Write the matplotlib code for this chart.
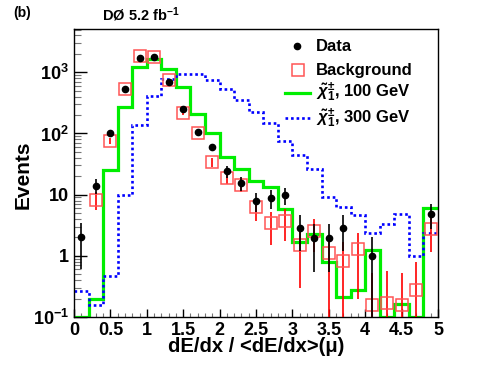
import numpy as np
import matplotlib
matplotlib.use('Agg')
from matplotlib import pyplot as plt
from matplotlib.ticker import FixedLocator, MultipleLocator, NullFormatter

plt.rcParams['font.family'] = ['Liberation Sans', 'DejaVu Sans']
plt.rcParams['font.weight'] = 'bold'
plt.rcParams['mathtext.fontset'] = 'custom'
plt.rcParams['mathtext.rm'] = 'Liberation Sans:bold'
plt.rcParams['mathtext.bf'] = 'Liberation Sans:bold'
plt.rcParams['mathtext.it'] = 'Liberation Sans:italic'

# bins of dE/dx ratio
edges = np.linspace(0, 5, 26)
centers = 0.5 * (edges[:-1] + edges[1:])

# data (nan = empty bin)
data = [2, 14, 100, 540, 1740, 1750, 685, 250, 104, 60, 24, 15.5, 8, 8.8, 9.8,
        2.9, 1.95, 1.95, 2.9, np.nan, 1.0, np.nan, np.nan, np.nan, 4.8]
data_err = [1.4, 3.7, 10, 23, 42, 42, 26, 16, 10, 8, 5, 4, 2.8, 3, 3.1,
            1.7, 1.4, 1.4, 1.7, 0, 0.999, 0, 0, 0, 2.1]

# background
bkg = [np.nan, 8.3, 75, 540, 1830, 1800, 740, 215, 100, 34, 19, 14.5, 6.3, 3.4, 3.75,
       1.5, 2.57, 1.1, 0.83, 1.3, 0.16, 0.17, 0.16, 0.28, 2.75]
bkg_err = [0, 2.7, 8, 25, 45, 45, 30, 15, 10, 6, 4, 3.5, 2.6, 1.9, 2.0,
           1.2, 1.4, 1.099, 0.829, 1.1, 0.37, 0.4, 0.37, 0.5, 1.6]

# signal histograms
sig100 = [0.1, 0.2, 25, 270, 1220, 1650, 1120, 575, 210, 100, 41, 26.4, 17, 13.5, 5.8,
          1.7, 2.27, 0.8, 0.21, 0.28, 1.24, 0.1, 0.166, 0.1, 6.0]
sig300 = [0.27, 0.16, 0.47, 10, 138, 410, 790, 930, 930, 740, 540, 357, 224, 147, 75,
          45, 26, 9.3, 6.3, 4.6, 2.36, 3.3, 4.8, 1.0, 2.33]

green = '#00ee00'
blue = '#0000ff'
dots = (0, (1, 1.1))

fig = plt.figure(figsize=(4.98, 3.74), dpi=100)
ax = fig.add_axes([0.1486, 0.1524, 0.7309, 0.7701])

ax.stairs(sig100, edges, baseline=None, color=green, lw=2.3, zorder=2)
ax.stairs(sig300, edges, baseline=None, color=blue, lw=1.9, linestyle=dots, zorder=2)

ax.errorbar(centers, bkg, yerr=bkg_err, fmt='none', ecolor='red', elinewidth=1.2, zorder=3)
ax.plot(centers, bkg, 's', ms=8, mfc='none', mec='#ff5555', mew=1.1, zorder=4)
ax.errorbar(centers, data, yerr=data_err, fmt='o', color='black', ms=4.5,
            elinewidth=1.2, zorder=5)

ax.set_yscale('log')
ax.set_xlim(0, 5)
ax.set_ylim(0.1, 5100)

ax.yaxis.set_major_locator(FixedLocator([0.1, 1, 10, 100, 1000]))
ax.set_yticklabels([r'10$^{-1}$', '1', '10', r'10$^{2}$', r'10$^{3}$'])
ax.yaxis.set_minor_locator(FixedLocator(
    [m * 10.0 ** e for e in range(-1, 4) for m in range(2, 10)]))
ax.yaxis.set_minor_formatter(NullFormatter())
ax.xaxis.set_minor_locator(MultipleLocator(0.1))
ax.set_xticks([0, 0.5, 1, 1.5, 2, 2.5, 3, 3.5, 4, 4.5, 5])
ax.set_xticklabels(['0', '0.5', '1', '1.5', '2', '2.5', '3', '3.5', '4', '4.5', '5'])

ax.tick_params(which='both', direction='in', top=False, right=False, labelsize=13)
ax.tick_params(axis='y', which='major', length=9, width=1)
ax.tick_params(axis='y', which='minor', length=5, width=0.8, color='#777777')
ax.tick_params(axis='x', which='major', length=6, width=1)
ax.tick_params(axis='x', which='minor', length=3, width=0.8, color='#777777')
for s in ax.spines.values():
    s.set_linewidth(1.0)

ax.set_xlabel('dE/dx / <dE/dx>(\u03bc)', fontsize=14.5, fontweight='bold')
ax.xaxis.set_label_coords(0.5, -0.07)
ax.set_ylabel('Events', fontsize=15, fontweight='bold')
ax.yaxis.set_label_coords(-0.115, 0.495)

fig.text(0.026, 0.955, '(b)', fontsize=10, fontweight='bold', va='baseline')
fig.text(0.205, 0.944, 'D\u00d8 5.2 fb$^{-1}$', fontsize=10.5, fontweight='bold',
         va='baseline', ha='left')

# legend, drawn by hand so the rows are evenly spaced
tr = ax.transAxes
ax.plot([0.6126], [0.941], 'o', color='black', ms=4.5, transform=tr, clip_on=False)
ax.plot([0.6154], [0.857], 's', mfc='none', mec='#ff5555', ms=8, mew=1.1,
        transform=tr, clip_on=False)
ax.plot([0.580, 0.648], [0.777, 0.777], color=green, lw=2.3, transform=tr, clip_on=False)
ax.plot([0.580, 0.648], [0.690, 0.690], color=blue, lw=1.9, ls=dots, transform=tr,
        clip_on=False)
leg_labels = ['Data', 'Background', r'$\tilde{\chi}^{\pm}_{1}$, 100 GeV',
              r'$\tilde{\chi}^{\pm}_{1}$, 300 GeV']
leg_base = [0.9247, 0.840, 0.765, 0.6725]
for lab, yb in zip(leg_labels, leg_base):
    ax.text(0.665, yb, lab, transform=tr, fontsize=12, fontweight='bold', va='baseline')

fig.savefig('out.png', dpi=100)
